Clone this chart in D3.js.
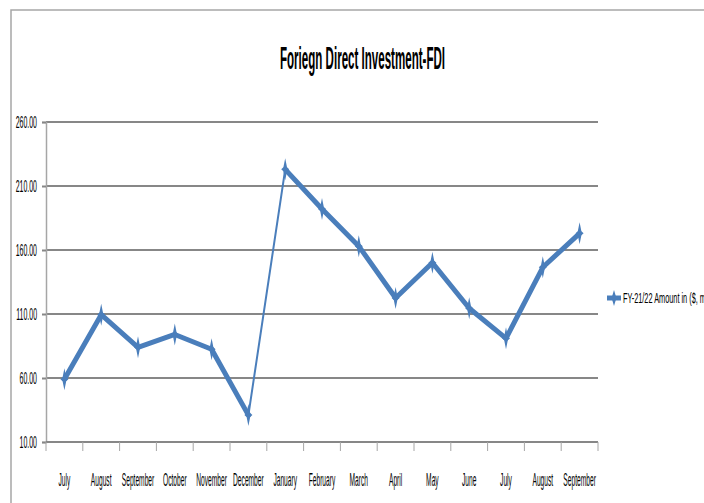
<!DOCTYPE html>
<html>
<head>
<meta charset="utf-8">
<script src="https://cdn.jsdelivr.net/npm/d3@7"></script>
<style>
  body { margin: 0; background: #fff; overflow: hidden; }
  text { font-family: "Liberation Sans", Arial, sans-serif; fill: #000; }
</style>
</head>
<body>
<script>
// data
var months = ["July", "August", "September", "October", "November", "December",
              "January", "February", "March", "April", "May", "June",
              "July ", "August ", "September "];
var amounts = [59, 109.5, 84, 94, 82.5, 31, 223, 192, 163, 122.5, 150, 114.5, 91, 146.5, 173];
var yTicks = [10, 60, 110, 160, 210, 260];
var seriesName = "FY-21/22 Amount in ($, million)";
var chartTitle = "Foriegn Direct Investment-FDI";

function drawChart(){

  var W = 704, H = 503;
  var blue = "#4a7ebb";

  var svg = d3.select("body").append("svg")
      .attr("width", W)
      .attr("height", H);

  // chart area border (only top and left show)
  svg.append("rect")
      .attr("x", 11).attr("y", 10)
      .attr("width", 900).attr("height", 700)
      .attr("fill", "none")
      .attr("stroke", "#a6a6a6")
      .attr("stroke-width", 1.5);

  var pLeft = 46, pRight = 598, pTop = 122, pBottom = 442;

  var x = d3.scalePoint()
      .domain(months)
      .range([pLeft, pRight])
      .padding(0.5);

  var y = d3.scaleLinear()
      .domain([10, 260])
      .range([pBottom, pTop]);

  // title
  svg.append("text")
      .attr("x", 280).attr("y", 69)
      .attr("textLength", 165)
      .attr("lengthAdjust", "spacingAndGlyphs")
      .style("font-size", "32px")
      .style("font-weight", "bold")
      .text(chartTitle);

  // gridlines
  svg.append("g").selectAll("line")
      .data(yTicks.slice(1))
      .join("line")
      .attr("x1", pLeft).attr("x2", pRight)
      .attr("y1", function(d){ return y(d); })
      .attr("y2", function(d){ return y(d); })
      .attr("stroke", "#878787")
      .attr("stroke-width", 2);

  // y axis
  var yAxis = svg.append("g")
      .attr("transform", "translate(" + pLeft + ",0)")
      .call(d3.axisLeft(y).tickValues(yTicks).tickSize(4).tickFormat(d3.format(".2f")));
  yAxis.select(".domain").attr("stroke", "#a6a6a6").attr("stroke-width", 1.5);
  yAxis.selectAll(".tick line").attr("stroke", "#878787").attr("stroke-width", 2);
  yAxis.selectAll(".tick text")
      .attr("x", 0).attr("dy", null)
      .attr("dominant-baseline", "central")
      .attr("text-anchor", "end")
      .style("font-size", "17px")
      .attr("transform", "translate(-9,0) scale(0.41,1)");

  // x axis: line plus ticks between categories
  var step = x.step();
  svg.append("line")
      .attr("x1", pLeft).attr("x2", pRight)
      .attr("y1", pBottom).attr("y2", pBottom)
      .attr("stroke", "#878787").attr("stroke-width", 2);
  svg.append("g").selectAll("line")
      .data(d3.range(months.length + 1))
      .join("line")
      .attr("x1", function(i){ return pLeft + i * step; })
      .attr("x2", function(i){ return pLeft + i * step; })
      .attr("y1", pBottom).attr("y2", pBottom + 9)
      .attr("stroke", "#a6a6a6").attr("stroke-width", 1);

  svg.append("g").selectAll("text")
      .data(months)
      .join("text")
      .attr("transform", function(d){ return "translate(" + x(d) + "," + 486 + ") scale(0.35,1)"; })
      .attr("text-anchor", "middle")
      .style("font-size", "19px")
      .text(function(d){ return d.trim(); });

  // line, drawn segment by segment (Dec -> Jan is thin)
  var pts = months.map(function(m, i){ return [x(m), y(amounts[i])]; });
  var line = d3.line();
  for (var i = 0; i < pts.length - 1; i++) {
    svg.append("path")
        .attr("d", line([pts[i], pts[i + 1]]))
        .attr("fill", "none")
        .attr("stroke", blue)
        .attr("stroke-width", months[i] === "December" ? 2 : 5)
        .attr("stroke-linecap", "round")
        .attr("stroke-linejoin", "round");
  }

  // star markers
  var star = "M0,-11 L1.8,-2 L4,0 L1.8,2 L0,11 L-1.8,2 L-4,0 L-1.8,-2 Z";
  svg.append("g").selectAll("path")
      .data(pts)
      .join("path")
      .attr("d", star)
      .attr("transform", function(p){ return "translate(" + p[0] + "," + p[1] + ")"; })
      .attr("fill", blue);

  // legend
  var lg = svg.append("g").attr("transform", "translate(614,298)");
  lg.append("line")
      .attr("x1", -7).attr("x2", 7)
      .attr("stroke", blue).attr("stroke-width", 5);
  lg.append("path")
      .attr("d", "M0,-8 L1.8,-2 L6,0 L1.8,2 L0,8 L-1.8,2 L-6,0 L-1.8,-2 Z")
      .attr("fill", blue);
  lg.append("text")
      .attr("transform", "translate(9,0) scale(0.49,1)")
      .attr("dominant-baseline", "central")
      .style("font-size", "15px")
      .text(seriesName);
}
drawChart();
</script>
</body>
</html>
